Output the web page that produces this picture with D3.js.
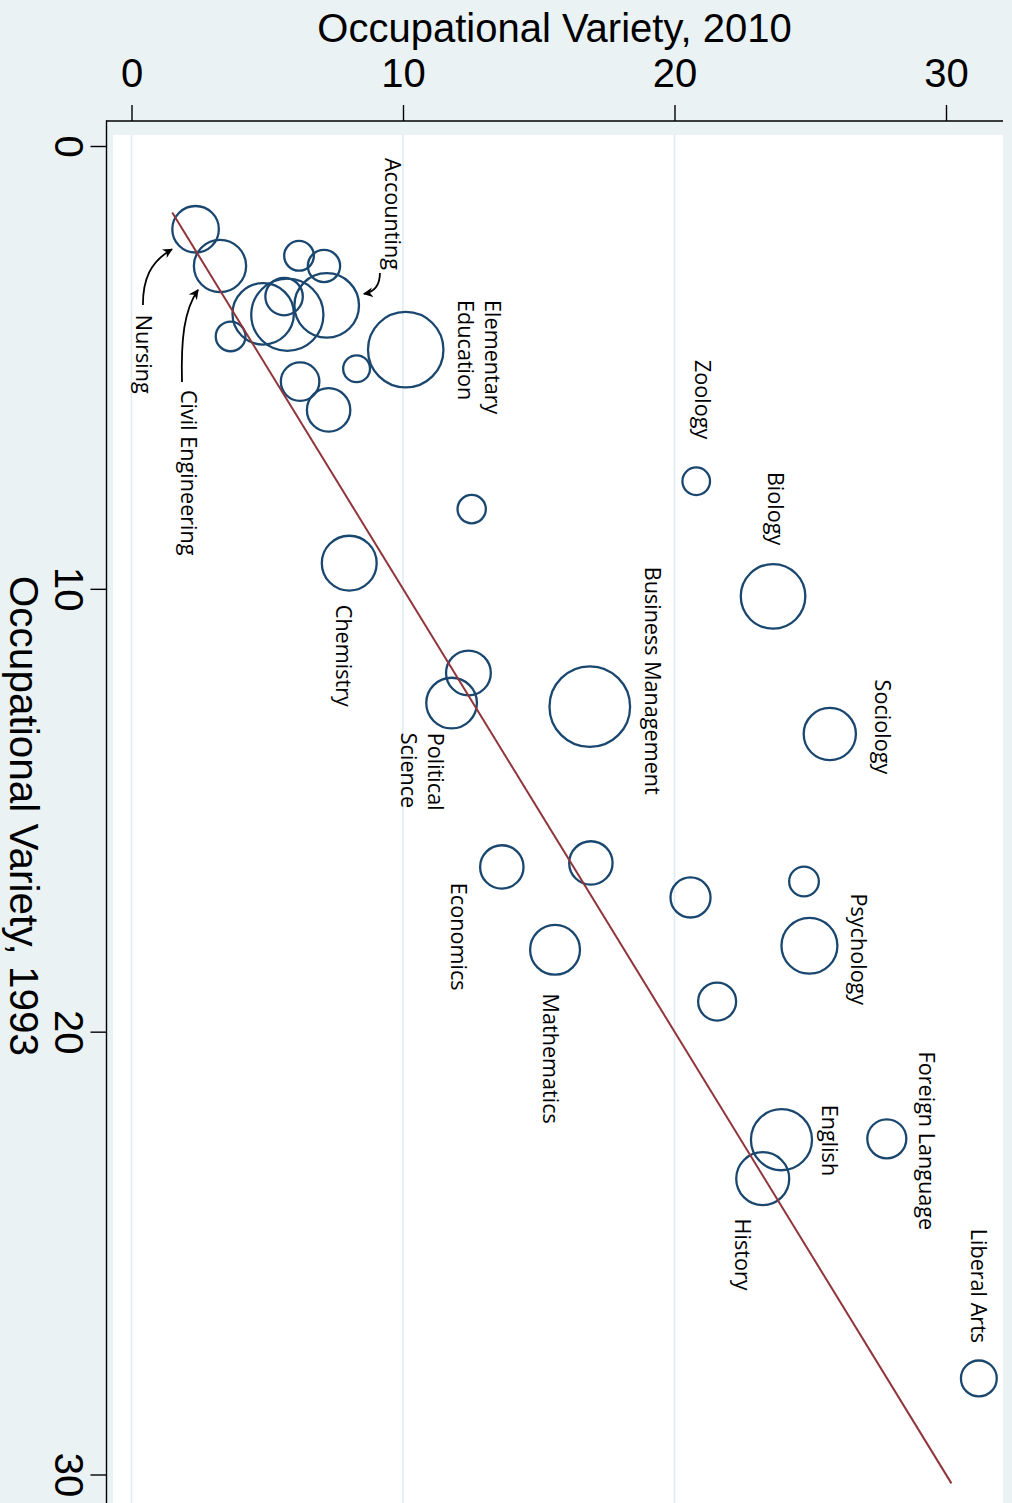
<!DOCTYPE html>
<html>
<head>
<meta charset="utf-8">
<script src="https://cdnjs.cloudflare.com/ajax/libs/d3/7.8.5/d3.min.js"></script>
<style>
  body { margin: 0; background: #eaf2f3; }
  svg  { display: block; }
</style>
</head>
<body>
<main></main>
<script>
let svgWidth  = 1012;
let svgHeight = 1503;

// one entry per major: 2010 variety (across), 1993 variety (down), bubble weight
const majors = [
  'Nursing', 'Civil Engineering', '', '', 'Accounting', '', '', '', '',
  'Elementary Education', '', '', '', '', 'Chemistry', '', 'Political Science',
  'Zoology', 'Biology', 'Business Management', 'Sociology', 'Economics', '',
  '', '', 'Psychology', 'Mathematics', '', 'Foreign Language', 'English',
  'History', 'Liberal Arts'
];
const variety2010 = [
  2.36, 3.26, 6.17, 7.09, 7.19, 4.85, 5.74, 5.62, 3.65,
  10.10, 8.29, 6.21, 7.26, 12.53, 8.02, 12.41, 11.79,
  20.80, 23.63, 16.88, 25.72, 13.64, 16.92,
  20.59, 24.77, 24.97, 15.60, 21.57, 27.82, 23.94,
  23.25, 31.21
];
const variety1993 = [
  1.88, 2.71, 2.48, 2.71, 3.60, 3.79, 3.81, 3.40, 4.30,
  4.60, 5.03, 5.32, 5.96, 8.20, 9.42, 11.90, 12.58,
  7.57, 10.17, 12.66, 13.28, 16.28, 16.19,
  16.97, 16.61, 18.06, 18.15, 19.32, 22.42, 22.44,
  23.32, 27.83
];
const weights = [
  54, 68, 22, 26, 104, 94, 130, 35, 22,
  142, 18, 37, 47, 20, 75, 50, 64,
  19, 104, 162, 68, 47, 47,
  40, 22, 78, 62, 36, 38, 93,
  70, 32
];

const tickValues    = [0, 10, 20, 30];
const gridValues    = [0, 10, 20];
const equalityRange = [1.5, 30.2];

// label text lines and where each label starts (data units)
const labelLines = [
  ['Accounting'], ['Elementary', 'Education'], ['Nursing'], ['Civil Engineering'],
  ['Zoology'], ['Biology'], ['Business Management'], ['Chemistry'],
  ['Political', 'Science'], ['Sociology'], ['Economics'], ['Mathematics'],
  ['Psychology'], ['Foreign Language'], ['English'], ['History'], ['Liberal Arts']
];
const labelX = [
  9.34, 13.02, 0.17, 1.82,
  20.75, 23.44, 18.91, 7.53,
  10.92, 27.38, 11.77, 15.15,
  26.50, 29.00, 25.43, 22.23, 30.92
];
const labelY = [
  0.27, 3.48, 3.81, 5.51,
  4.83, 7.36, 9.50, 10.36,
  13.25, 12.05, 16.64, 19.14,
  16.88, 20.45, 21.65, 24.22, 24.45
];

// curved arrows from labels to bubbles: start, control 1, control 2, end
const arrowPaths = [
  [[0.42, 3.59], [0.42, 3.02], [0.68, 2.62], [1.49, 2.33]],
  [[1.86, 5.33], [1.82, 4.38], [1.93, 3.70], [2.45, 3.25]],
  [[9.15, 2.87], [9.15, 3.16], [8.93, 3.30], [8.56, 3.34]]
];

const bgColor     = '#eaf2f3';
const gridColor   = '#e1ecf0';
const bubbleColor = '#1a476f';
const lineColor   = '#90353b';
const axisFont    = '"Liberation Sans", Arial, sans-serif';
const labelFont   = '"Open Sans", sans-serif';

var svg;

function drawFrame(x, y) {
  svg.append('rect')
    .attr('x', 0).attr('y', 0)
    .attr('width', svgWidth).attr('height', svgHeight)
    .attr('fill', bgColor);

  svg.append('rect')
    .attr('x', 113).attr('y', 135)
    .attr('width', 1003 - 113).attr('height', svgHeight - 135)
    .attr('fill', '#ffffff');

  svg.append('g')
    .selectAll('line')
    .data(gridValues)
    .enter()
      .append('line')
        .attr('x1', function(d) { return x(d); })
        .attr('x2', function(d) { return x(d); })
        .attr('y1', 135)
        .attr('y2', svgHeight)
        .attr('stroke', gridColor)
        .attr('stroke-width', 1.6);
}

function drawAxes(x, y) {
  var top = svg.append('g')
    .attr('transform', 'translate(0,121)')
    .call(d3.axisTop(x).tickValues(tickValues).tickSize(16).tickPadding(18));
  top.select('.domain').remove();
  top.selectAll('line').attr('stroke', 'black').attr('stroke-width', 1.4);
  top.selectAll('text')
    .attr('font-family', axisFont)
    .attr('font-size', '40px')
    .attr('fill', 'black');

  var left = svg.append('g')
    .attr('transform', 'translate(106.5,0)')
    .call(d3.axisLeft(y).tickValues(tickValues).tickSize(16));
  left.select('.domain').remove();
  left.selectAll('line').attr('stroke', 'black').attr('stroke-width', 1.4);
  left.selectAll('text')
    .attr('x', 0)
    .attr('dy', 0)
    .attr('text-anchor', 'middle')
    .attr('transform', 'translate(-51.5,0) rotate(90)')
    .attr('font-family', axisFont)
    .attr('font-size', '40px')
    .attr('fill', 'black');

  svg.append('line')
    .attr('x1', 106).attr('x2', 1003)
    .attr('y1', 121).attr('y2', 121)
    .attr('stroke', 'black').attr('stroke-width', 1.4);
  svg.append('line')
    .attr('x1', 106.5).attr('x2', 106.5)
    .attr('y1', 120.5).attr('y2', svgHeight)
    .attr('stroke', 'black').attr('stroke-width', 1.4);

  svg.append('text')
    .attr('x', 554.5).attr('y', 42)
    .attr('text-anchor', 'middle')
    .attr('font-family', axisFont)
    .attr('font-size', '40px')
    .text('Occupational Variety, 2010');

  svg.append('text')
    .attr('transform', 'translate(10,816) rotate(90)')
    .attr('text-anchor', 'middle')
    .attr('font-family', axisFont)
    .attr('font-size', '40.5px')
    .text('Occupational Variety, 1993');
}

function drawBubbles(x, y, r) {
  svg.append('g')
    .selectAll('circle')
    .data(majors)
    .enter()
      .append('circle')
        .attr('cx', function(d, i) { return x(variety2010[i]); })
        .attr('cy', function(d, i) { return y(variety1993[i]); })
        .attr('r',  function(d, i) { return r(weights[i]); })
        .attr('fill', 'none')
        .attr('stroke', bubbleColor)
        .attr('stroke-width', 2.3);

  svg.append('line')
    .attr('x1', x(equalityRange[0])).attr('y1', y(equalityRange[0]))
    .attr('x2', x(equalityRange[1])).attr('y2', y(equalityRange[1]))
    .attr('stroke', lineColor)
    .attr('stroke-width', 2);
}

function drawLabels(x, y) {
  var g = svg.append('g')
    .selectAll('text')
    .data(labelLines)
    .enter()
      .append('text')
        .attr('transform', function(d, i) {
          return 'translate(' + x(labelX[i]) + ',' + y(labelY[i]) + ') rotate(90)';
        })
        .attr('font-family', labelFont)
        .attr('font-size', '21.6px')
        .attr('fill', 'black');

  g.selectAll('tspan')
    .data(function(d) { return d; })
    .enter()
      .append('tspan')
        .attr('x', 0)
        .attr('dy', function(d, i) { return i === 0 ? 0 : '1.27em'; })
        .text(function(d) { return d; });

  svg.append('defs')
    .append('marker')
      .attr('id', 'head')
      .attr('markerUnits', 'userSpaceOnUse')
      .attr('markerWidth', 12).attr('markerHeight', 12)
      .attr('refX', 9).attr('refY', 5)
      .attr('orient', 'auto')
    .append('path')
      .attr('d', 'M0,0 L10,5 L0,10 L3,5 Z')
      .attr('fill', 'black');

  svg.append('g')
    .selectAll('path')
    .data(arrowPaths)
    .enter()
      .append('path')
        .attr('d', function(d) {
          var p = d3.path();
          p.moveTo(x(d[0][0]), y(d[0][1]));
          p.bezierCurveTo(x(d[1][0]), y(d[1][1]), x(d[2][0]), y(d[2][1]), x(d[3][0]), y(d[3][1]));
          return p.toString();
        })
        .attr('fill', 'none')
        .attr('stroke', 'black')
        .attr('stroke-width', 1.8)
        .attr('marker-end', 'url(#head)');
}

document.addEventListener('DOMContentLoaded', function() {
  let x = d3.scaleLinear().domain([0, 30]).range([131.5, 946]);
  let y = d3.scaleLinear().domain([0, 30]).range([146, 1474.5]);
  let r = d3.scaleSqrt().domain([0, 162]).range([0, 40.3]);

  svg = d3
    .select('body main')
    .append('svg')
    .attr('width', svgWidth)
    .attr('height', svgHeight);

  drawFrame(x, y);
  drawBubbles(x, y, r);
  drawLabels(x, y);
  drawAxes(x, y);
});
</script>
</body>
</html>
